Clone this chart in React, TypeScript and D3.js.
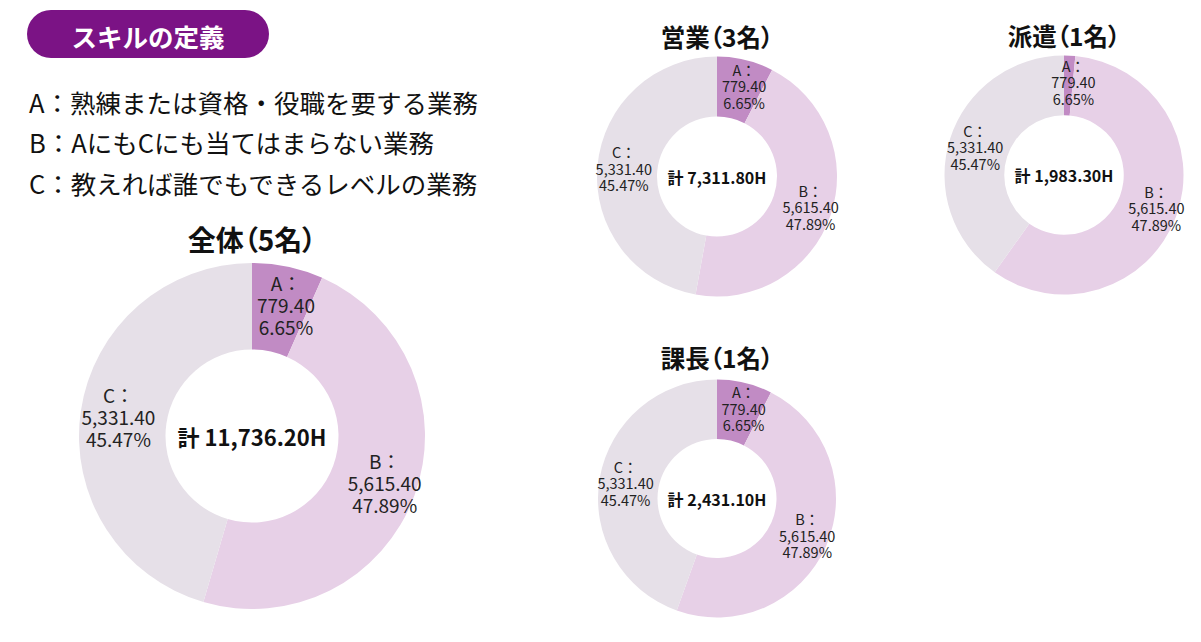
import React from 'react';
import * as d3 from 'd3';

// ---- data ----
const categories = ['A', 'B', 'C'];
const definitions = [
  'A：熟練または資格・役職を要する業務',
  'B：AにもCにも当てはまらない業務',
  'C：教えれば誰でもできるレベルの業務',
];
const groupTitles = ['全体（5名）', '営業（3名）', '派遣（1名）', '課長（1名）'];
const groupTotals = [11736.2, 7311.8, 1983.3, 2431.1];
// slice values (hours) per group: A, B, C
const valuesAll = [779.4, 5615.4, 5331.4];
const valuesSales = [555, 3310, 3446.8];
const valuesDispatch = [30, 1157, 796.3];
const valuesManager = [182, 1167, 1082.1];
// label texts shown on every chart
const labelHours = [779.4, 5615.4, 5331.4];
const labelPercents = [6.65, 47.89, 45.47];

const groupValues = [valuesAll, valuesSales, valuesDispatch, valuesManager];

// ---- layout ----
const layouts = [
  { cx: 252, cy: 436, r: 173, titleY: 251, titleSize: 28, labelSize: 19, lineH: 22, totalSize: 22, dx: 6 },
  { cx: 717, cy: 176.5, r: 120, titleY: 47, titleSize: 24.5, labelSize: 14.5, lineH: 16.5, totalSize: 16, dx: 5 },
  { cx: 1064, cy: 175, r: 119.5, titleY: 46, titleSize: 24.5, labelSize: 14.5, lineH: 16.5, totalSize: 16, dx: 5 },
  { cx: 717, cy: 498.5, r: 119, titleY: 368, titleSize: 24.5, labelSize: 14.5, lineH: 16.5, totalSize: 16, dx: 5 },
];

const color = d3.scaleOrdinal<string, string>().domain(categories).range(['#c18bc4', '#e7d0e7', '#e6e0e8']);
const fmt = d3.format(',.2f');
const FONT = '"Noto Sans CJK JP", "Noto Sans", sans-serif';

function Donut({ idx }: { idx: number }) {
  const L = layouts[idx];
  const vals = groupValues[idx];
  const data = categories.map((c, i) => ({ cat: c, value: vals[i], i }));
  const pie = d3.pie<any>().sort(null).value((d) => d.value);
  const arcs = pie(data);
  const inner = L.r * 0.5;
  const arc = d3.arc<any>().innerRadius(inner).outerRadius(L.r);
  const labelArc = d3.arc<any>().innerRadius(inner * 1.04).outerRadius(L.r * 1.04);
  return (
    <g transform={`translate(${L.cx},${L.cy})`}>
      {arcs.map((a) => (
        <path key={a.data.cat} d={arc(a) || ''} fill={color(a.data.cat)} />
      ))}
      {arcs.map((a) => {
        const [cx0, y] = labelArc.centroid(a);
        const x = cx0 + (cx0 > 0 ? L.dx : 0);
        const lines = [`${a.data.cat}：`, fmt(labelHours[a.data.i]), `${labelPercents[a.data.i].toFixed(2)}%`];
        return (
          <g key={'l' + a.data.cat}>
            {lines.map((t, k) => (
              <text key={k} x={x} y={y + (k - 1) * L.lineH} textAnchor="middle" dominantBaseline="central"
                fontSize={L.labelSize} fill="#222" fontFamily={FONT}>{t}</text>
            ))}
          </g>
        );
      })}
      <text x={0} y={0} textAnchor="middle" dominantBaseline="central" fontSize={L.totalSize} fontWeight={700} fill="#111" fontFamily={FONT}>
        {`計 ${fmt(groupTotals[idx])}H`}
      </text>
      <text x={0} y={L.titleY - L.cy} textAnchor="middle" fontSize={L.titleSize} fontWeight={700} fill="#111" fontFamily={FONT}
        style={{ fontFeatureSettings: '"palt"' }}>
        {groupTitles[idx]}
      </text>
    </g>
  );
}

export default function App() {
  return (
    <svg width={1201} height={642} style={{ position: 'absolute', left: 0, top: 0, background: '#fff' }}>
      <rect x={0} y={0} width={1201} height={642} fill="#fff" />
      <rect x={27} y={10} width={242} height={48} rx={24} ry={24} fill="#7b1385" />
      <text x={148} y={35} textAnchor="middle" dominantBaseline="central" fontSize={25.5} fontWeight={700} fill="#fff" fontFamily={FONT}>
        スキルの定義
      </text>
      {definitions.map((t, i) => (
        <text key={i} x={29} y={101 + i * 40.5} dominantBaseline="central" fontSize={25.5} fill="#111" fontFamily={FONT}>
          {t}
        </text>
      ))}
      {groupTitles.map((_, i) => (
        <Donut key={i} idx={i} />
      ))}
    </svg>
  );
}
